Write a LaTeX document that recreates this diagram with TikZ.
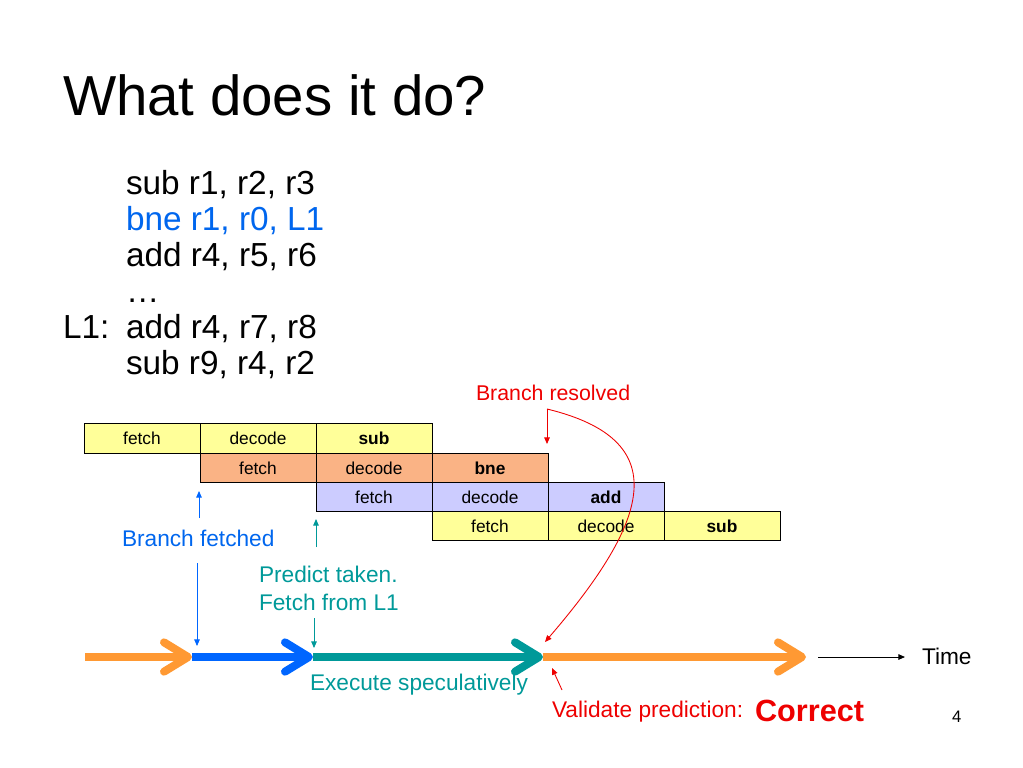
\documentclass[tikz,border=0pt]{standalone}
\usepackage{fontspec}
\setmainfont{Liberation Sans}
\usetikzlibrary{arrows.meta,positioning}

\definecolor{stageyel}{HTML}{FFFF99}
\definecolor{stagesal}{HTML}{FAB385}
\definecolor{stagelav}{HTML}{CCCCFF}
\definecolor{tlorange}{HTML}{FF9933}
\definecolor{tlblue}{HTML}{0066FF}
\definecolor{tlteal}{HTML}{009999}
\definecolor{txtblue}{HTML}{0066EE}
\definecolor{txtred}{HTML}{EE0000}

\begin{document}
\begin{tikzpicture}
[
    x=0.75pt, y=-0.75pt,
    stage/.style={draw=black, line width=0.75pt, minimum width=87pt, minimum height=21.94pt,
        inner sep=0pt, outer sep=0pt, font=\fontsize{13}{15}\selectfont},
    txt/.style={anchor=base west, inner sep=0pt, outer sep=0pt},
    code/.style={txt, font=\fontsize{25}{28}\selectfont},
    note/.style={txt, font=\fontsize{17}{20}\selectfont},
    tl/.style={line width=6pt, -{Straight Barb[round, length=18pt, width=22pt]}},
    thin/.style={line width=0.65pt, -{Triangle[length=5pt, width=4.2pt]}},
]
\useasboundingbox (0,0) rectangle (1023,767);

% title and code
\node [txt, font=\fontsize{42.3}{48}\selectfont] (title) at (63,115) {What does it do?};
\node [code] (c1) at (126,194) {sub r1, r2, r3};
\node [code, text=txtblue] (c2) at (126,230) {bne r1, r0, L1};
\node [code] (c3) at (126,266) {add r4, r5, r6};
\node [code] (c4) at (126,302) {\dots};
\node [code] (lab) at (63,338) {L1:};
\node [code] (c5) at (126,338) {add r4, r7, r8};
\node [code] (c6) at (126,374) {sub r9, r4, r2};

% pipeline
\node [stage, fill=stageyel] (s1f) at (142,438.6) {fetch};
\node [stage, fill=stageyel, right=0pt of s1f] (s1d) {decode};
\node [stage, fill=stageyel, right=0pt of s1d] (s1x) {\textbf{sub}};
\node [stage, fill=stagesal, below=0pt of s1d] (s2f) {fetch};
\node [stage, fill=stagesal, right=0pt of s2f] (s2d) {decode};
\node [stage, fill=stagesal, right=0pt of s2d] (s2x) {\textbf{bne}};
\node [stage, fill=stagelav, below=0pt of s2d] (s3f) {fetch};
\node [stage, fill=stagelav, right=0pt of s3f] (s3d) {decode};
\node [stage, fill=stagelav, right=0pt of s3d] (s3x) {\textbf{add}};
\node [stage, fill=stageyel, below=0pt of s3d] (s4f) {fetch};
\node [stage, fill=stageyel, right=0pt of s4f] (s4d) {decode};
\node [stage, fill=stageyel, right=0pt of s4d] (s4x) {\textbf{sub}};

% labels
\node [txt, font=\fontsize{16}{19}\selectfont, text=txtred] (resolved) at (476,400) {Branch resolved};
\node [note, text=txtblue] (fetched) at (122,546) {Branch fetched};
\node [note, text=tlteal] (predict) at (259,582) {Predict taken.};
\node [note, text=tlteal] (fromL1) at (259,610) {Fetch from L1};
\node [note, text=tlteal] (spec) at (310,690) {Execute speculatively};
\node [note, text=txtred] (validate) at (552,717) {Validate prediction:};
\node [txt, font=\fontsize{23}{26}\selectfont\bfseries, text=txtred] (correct) at (755,721) {Correct};
\node [note] (time) at (922,664) {Time};
\node [txt, font=\fontsize{12.5}{15}\selectfont] (page) at (952,722) {4};

% timeline
\coordinate (t0) at (85,657);
\coordinate (t1) at (192,657);
\coordinate (t2) at (313,657);
\coordinate (t3) at (543,657);
\coordinate (t4) at (806,657);
\draw [tl, tlorange] (t0) -- (t1);
\draw [tl, tlblue] (t1) -- (t2);
\draw [tl, tlteal] (t2) -- (t3);
\draw [tl, tlorange] (t3) -- (t4);

% small arrows
\coordinate (bfa) at (199,518);
\coordinate (bfb) at (199,491);
\coordinate (bfc) at (197,563);
\coordinate (bfd) at (197,646);
\coordinate (pta) at (316,547);
\coordinate (ptb) at (316,519);
\coordinate (ptc) at (314,618);
\coordinate (ptd) at (314,648);
\coordinate (res) at (547,409);
\coordinate (resb) at (547,444);
\coordinate (valtip) at (545,642);
\coordinate (vala) at (562,690);
\coordinate (valb) at (552,668);
\coordinate (ta) at (818,657);
\coordinate (tb) at (905,657);
\draw [thin, tlblue] (bfa) -- (bfb);
\draw [thin, tlblue] (bfc) -- (bfd);
\draw [thin, tlteal] (pta) -- (ptb);
\draw [thin, tlteal] (ptc) -- (ptd);
\draw [thin, txtred] (res) -- (resb);
\draw [thin, txtred] (res) .. controls (675,440) and (650,520) .. (valtip);
\draw [thin, txtred] (vala) -- (valb);
\draw [thin, black] (ta) -- (tb);
\end{tikzpicture}
\end{document}
